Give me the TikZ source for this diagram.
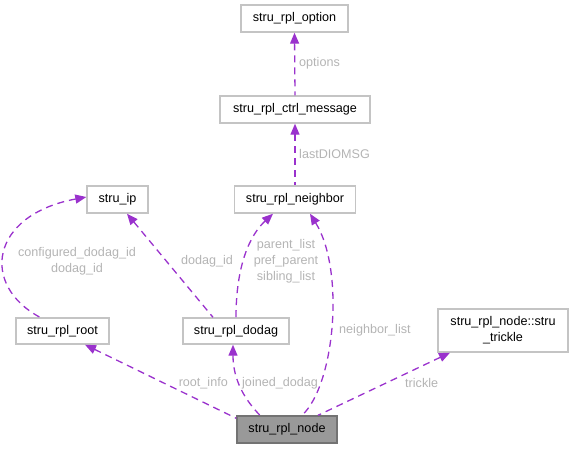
\documentclass[tikz,border=0pt]{standalone}
\usepackage{fontspec}
\setmainfont{Liberation Sans}
\usetikzlibrary{arrows.meta}
\definecolor{edgec}{HTML}{9A32CD}
\definecolor{labc}{HTML}{B4B4B4}
\definecolor{boxc}{HTML}{C4C4C4}
\tikzset{
  cls/.style={draw=boxc, line width=1.4pt, fill=white, inner sep=0pt, font=\fontsize{12.6}{16}\selectfont, align=center},
  mainc/.style={cls, fill=black!40, draw=black!55},
  rel/.style={draw=edgec, line width=1.3pt, dash pattern=on 7pt off 5pt, {Triangle[length=11pt,width=9pt]}-},
  lab/.style={text=labc, font=\fontsize{12.6}{16}\selectfont, align=center, inner sep=0pt}
}
\begin{document}
\begin{tikzpicture}[x=1pt,y=-1pt]
\useasboundingbox (0,0) rectangle (573,448);
% nodes
\node[cls, minimum width=107pt, minimum height=27pt] (opt) at (294.5,18.5) {stru\_rpl\_option};
\node[cls, minimum width=150pt, minimum height=27pt] (ctrl) at (295,109.5) {stru\_rpl\_ctrl\_message};
\node[cls, minimum width=121pt, minimum height=27pt] (nb) at (295,199.5) {stru\_rpl\_neighbor};
\node[cls, minimum width=61pt, minimum height=27pt] (ip) at (117.5,199.5) {stru\_ip};
\node[cls, minimum width=93pt, minimum height=26pt] (root) at (62.5,331) {stru\_rpl\_root};
\node[cls, minimum width=106pt, minimum height=26pt] (dodag) at (236,331) {stru\_rpl\_dodag};
\node[cls, minimum width=130pt, minimum height=43pt] (tr) at (503,330.5) {stru\_rpl\_node::stru\\\_trickle};
\node[mainc, minimum width=100pt, minimum height=27pt] (rn) at (287,429.5) {stru\_rpl\_node};
% edges
\draw[rel] (opt.south) -- (ctrl.north);
\draw[rel] (ctrl.south) -- (nb.north);
\draw[rel] ([yshift=2.5pt]ip.west) .. controls (-10,215) and (-20,285) .. ([xshift=-22.5pt]root.north);
\draw[rel] ([xshift=9.5pt]ip.south) -- ([xshift=-23pt]dodag.north);
\draw[rel] ([xshift=-22pt]nb.south) .. controls (250,235) and (236,265) .. (dodag.north);
\draw[rel] ([xshift=15pt]nb.south) .. controls (345,270) and (335,385) .. ([xshift=15pt]rn.north);
\draw[rel] ([xshift=22.5pt]root.south) -- ([yshift=-3pt]rn.north west);
\draw[rel] ([xshift=-3pt]dodag.south) .. controls (233,380) and (245,400) .. ([xshift=-27pt]rn.north);
\draw[rel] ([xshift=-53pt]tr.south) -- ([xshift=31pt]rn.north);
% labels
\node[lab, anchor=west] (l1) at (299,63) {options};
\node[lab, anchor=west] (l2) at (299,154) {lastDIOMSG};
\node[lab] (l3) at (77,261) {configured\_dodag\_id\\dodag\_id};
\node[lab] (l4) at (207,261) {dodag\_id};
\node[lab] (l5) at (286,261.5) {parent\_list\\pref\_parent\\sibling\_list};
\node[lab, anchor=west] (l6) at (339,330.5) {neighbor\_list};
\node[lab, anchor=east] (l7) at (228,383) {root\_info};
\node[lab, anchor=west] (l8) at (242,383) {joined\_dodag};
\node[lab, anchor=west] (l9) at (405,383) {trickle};
\end{tikzpicture}
\end{document}
